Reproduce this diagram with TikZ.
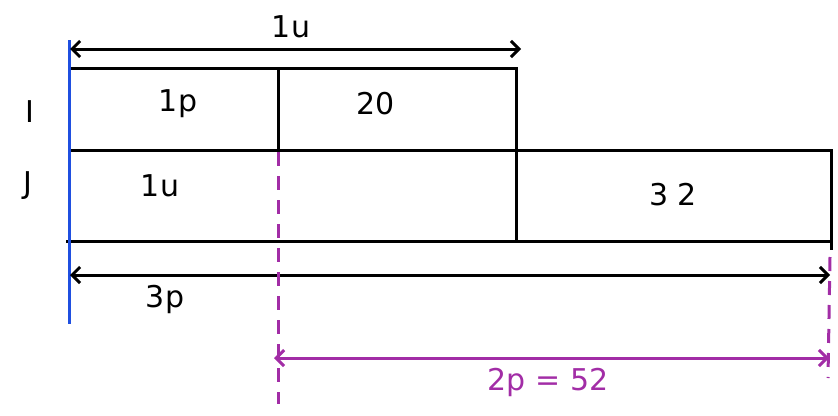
\documentclass[tikz,border=0pt]{standalone}
\usepackage{fontspec}
\setmainfont{DejaVu Sans}
\usetikzlibrary{arrows.meta}
\definecolor{myblue}{HTML}{1F4FE0}
\definecolor{mypurple}{HTML}{A22DA6}
\tikzset{
  bar/.style={draw=black, line width=3pt},
  dim/.style={line width=3pt, {Straight Barb[length=8pt,width=16pt]}-{Straight Barb[length=8pt,width=16pt]}},
  pdim/.style={draw=mypurple, line width=3pt, {Straight Barb[length=8pt,width=16pt]}-{Straight Barb[length=8pt,width=16pt]}},
  pdash/.style={draw=mypurple, line width=3pt, dash pattern=on 14pt off 10pt},
  lbl/.style={font=\fontsize{30}{36}\selectfont, inner sep=0pt},
  plbl/.style={lbl, text=mypurple}
}
\begin{document}
\begin{tikzpicture}[x=1pt,y=-1pt]
\useasboundingbox (0,0) rectangle (838,415);
% named coordinates
\coordinate (L0) at (69,68);
\coordinate (Imid) at (278,68);
\coordinate (Iend) at (516,68);
\coordinate (Jl) at (69,150);
\coordinate (Jm) at (278,150);
\coordinate (Je) at (831,150);
\coordinate (Bl) at (66,241);
\coordinate (Bm) at (516,241);
\coordinate (Be) at (831,241);
% rows
\draw[bar] (L0) -- (Iend |- L0) -- (Iend |- Bm);
\draw[bar] (Imid) -- (Jm);
\draw[bar] (Jl) -- (Je) -- (831,250);
\draw[bar] (Bl) -- (Be);
% blue line
\coordinate (BlueT) at (69,40);
\coordinate (BlueB) at (69,324);
\draw[draw=myblue, line width=3pt] (BlueT) -- (BlueB);
% dimension arrows
\coordinate (A1l) at (70,49);
\coordinate (A1r) at (521,49);
\draw[dim] (A1l) -- (A1r);
\coordinate (A2l) at (70,275);
\coordinate (A2r) at (830,275);
\draw[dim] (A2l) -- (A2r);
% purple dashed
\coordinate (D1t) at (278,152);
\coordinate (D1b) at (278,404);
\draw[pdash] (D1t) -- (D1b);
\coordinate (D2t) at (830,257);
\coordinate (D2b) at (828,378);
\draw[pdash] (D2t) -- (D2b);
\coordinate (P1l) at (274,358);
\coordinate (P1r) at (829,358);
\draw[pdim] (P1l) -- (P1r);
% labels
\node[lbl] (tu) at (291,27) {1u};
\node[lbl] (tI) at (30,112) {I};
\node[lbl] (tJ) at (28,186) {J};
\node[lbl] (t1p) at (178,104) {1p};
\node[lbl] (t20) at (376,104) {20};
\node[lbl] (t1u) at (160,186) {1u};
\node[lbl] (t32) at (673,195) {3 2};
\node[lbl] (t3p) at (165,299) {3p};
\node[plbl] (t52) at (548,382) {2p = 52};
\end{tikzpicture}
\end{document}
